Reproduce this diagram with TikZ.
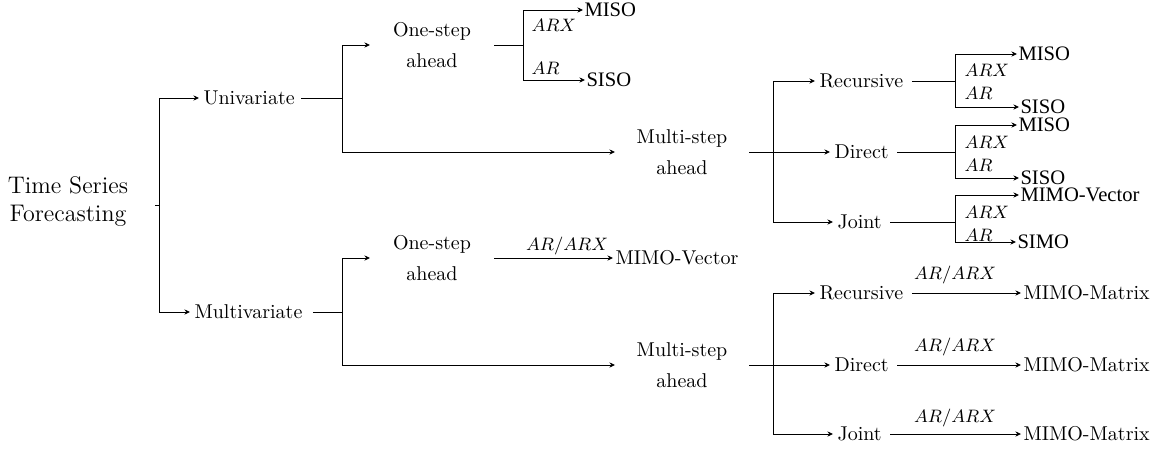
\documentclass[tikz,border=0pt]{standalone}
\usepackage{fontspec}
\newfontfamily\timesf{Liberation Serif}
\usetikzlibrary{arrows.meta}
\begin{document}
\begin{tikzpicture}[x=0.5pt,y=-0.5pt,
  line width=0.5pt,
  arr/.style={-{Stealth[length=2.8pt,width=2.6pt]}},
  txt/.style={anchor=west,inner ysep=1pt,inner xsep=2pt,font=\fontsize{10}{15.5}\selectfont},
  stepbox/.style={anchor=west,inner sep=0pt,align=center,font=\fontsize{10}{15.5}\selectfont},
  leaf/.style={anchor=west,inner ysep=0pt,inner xsep=0.5pt,font=\timesf\fontsize{10.3}{11}\selectfont},
  leafb/.style={anchor=west,inner ysep=1pt,inner xsep=1pt,font=\fontsize{10}{12}\selectfont},
  lab/.style={anchor=west,inner sep=0pt,font=\fontsize{9.5}{11}\selectfont},
  labc/.style={inner sep=0pt,font=\fontsize{9.5}{11}\selectfont}]
\useasboundingbox (0,0) rectangle (1154,450);

% root
\node[align=center,inner sep=0pt,font=\fontsize{12}{14}\selectfont] (tsf) at (68,202) {Time Series\\Forecasting};
\coordinate (t0) at (155,205);
\coordinate (j0) at (159,205);

% level 1
\node[txt] (uni) at (199,98) {Univariate};
\node[txt] (multi) at (190,312) {Multivariate};
\coordinate (u0) at (342,98);
\coordinate (m0) at (342,312);

% level 2
\node[stepbox,minimum width=61.5pt] (os1) at (370,45) {One-step\\ahead};
\node[stepbox,minimum width=66.5pt] (ms1) at (615,152) {Multi-step\\ahead};
\node[stepbox,minimum width=61.5pt] (os2) at (370,258) {One-step\\ahead};
\node[stepbox,minimum width=66.5pt] (ms2) at (615,365) {Multi-step\\ahead};

% upper one-step branch
\coordinate (b1) at (523,45);
\node[leaf] (miso1) at (583,10) {MISO};
\node[leaf] (siso1) at (585,80) {SISO};
\node[lab] (arx1) at (531,25) {$ARX$};
\node[lab] (ar1) at (531,68) {$AR$};

% upper multi-step branch
\coordinate (c1) at (773,152);
\node[txt] (rec1) at (815,81) {Recursive};
\node[txt] (dir1) at (830,152) {Direct};
\node[txt] (joi1) at (833,222) {Joint};
\coordinate (r1) at (955,81);
\coordinate (d1) at (955,152);
\coordinate (jj1) at (955,222);
\node[leaf] (misoR) at (1017,54) {MISO};
\node[leaf] (sisoR) at (1019,107) {SISO};
\node[leaf] (misoD) at (1017,125) {MISO};
\node[leaf] (sisoD) at (1019,178) {SISO};
\node[leaf] (mimoJ) at (1019,195) {MIMO-Vector};
\node[leaf] (simoJ) at (1016,242) {SIMO};
\node[lab] (arxR) at (964,70) {$ARX$};
\node[lab] (arR) at (964,93) {$AR$};
\node[lab] (arxD) at (964,142) {$ARX$};
\node[lab] (arD) at (964,165) {$AR$};
\node[lab] (arxJ) at (964,212) {$ARX$};
\node[lab] (arJ) at (964,235) {$AR$};

% lower one-step branch
\node[leafb] (mimoV) at (613,258) {MIMO-Vector};
\node[labc] (arxV) at (567,246) {$AR/ARX$};

% lower multi-step branch
\coordinate (c2) at (773,365);
\node[txt] (rec2) at (815,293) {Recursive};
\node[txt] (dir2) at (830,365) {Direct};
\node[txt] (joi2) at (833,434) {Joint};
\node[leafb] (mm1) at (1021,293) {MIMO-Matrix};
\node[leafb] (mm2) at (1021,365) {MIMO-Matrix};
\node[leafb] (mm3) at (1021,434) {MIMO-Matrix};
\node[labc] (lr) at (955,275) {$AR/ARX$};
\node[labc] (ld) at (955,347) {$AR/ARX$};
\node[labc] (lj) at (955,418) {$AR/ARX$};

% connectors
\draw (t0) -- (j0);
\draw[arr] (j0) |- (uni.west);
\draw[arr] (j0) |- (multi.west);

\draw ([xshift=1pt]uni.east) -- (u0);
\draw[arr] (u0) |- (os1.west);
\draw[arr] (u0) |- (ms1.west);
\draw ([xshift=3pt]multi.east) -- (m0);
\draw[arr] (m0) |- (os2.west);
\draw[arr] (m0) |- (ms2.west);

\draw (os1.east) -- (b1);
\draw[arr] (b1) |- (miso1.west);
\draw[arr] (b1) |- (siso1.west);

\draw (ms1.east) -- (c1);
\draw[arr] (c1) |- (rec1.west);
\draw[arr] (c1) |- (dir1.west);
\draw[arr] (c1) |- (joi1.west);
\draw ([xshift=2pt]rec1.east) -- (r1);
\draw ([xshift=2pt]dir1.east) -- (d1);
\draw ([xshift=2pt]joi1.east) -- (jj1);
\draw[arr] (r1) |- (misoR.west);
\draw[arr] (r1) |- (sisoR.west);
\draw[arr] (d1) |- (misoD.west);
\draw[arr] (d1) |- (sisoD.west);
\draw[arr] (jj1) |- (mimoJ.west);
\draw[arr] (jj1) |- (simoJ.west);

\draw[arr] (os2.east) -- (mimoV.west);

\draw (ms2.east) -- (c2);
\draw[arr] (c2) |- (rec2.west);
\draw[arr] (c2) |- (dir2.west);
\draw[arr] (c2) |- (joi2.west);
\draw[arr] ([xshift=2pt]rec2.east) -- (mm1.west);
\draw[arr] ([xshift=2pt]dir2.east) -- (mm2.west);
\draw[arr] ([xshift=2pt]joi2.east) -- (mm3.west);
\end{tikzpicture}
\end{document}
